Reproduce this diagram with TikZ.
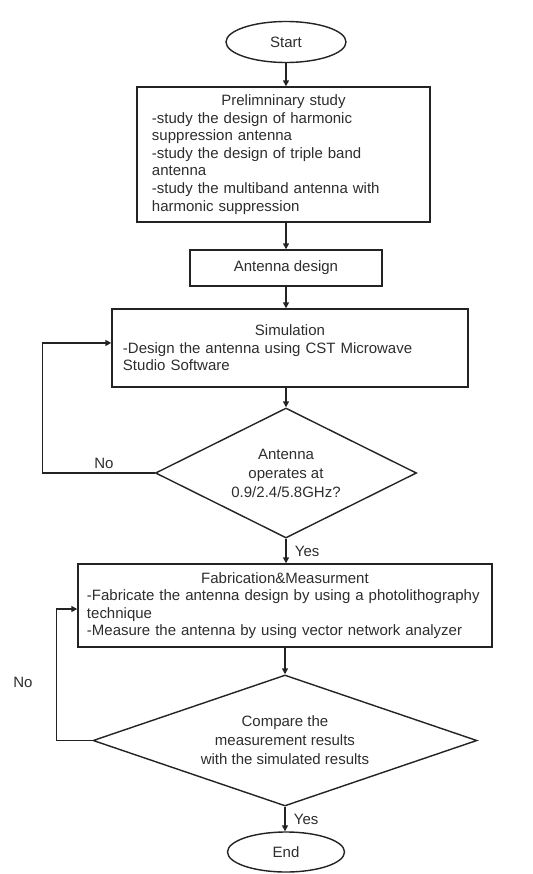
\documentclass[tikz,border=0pt]{standalone}
\usepackage{fontspec}
\setmainfont{Liberation Sans}
\usepackage{tikz}
\usetikzlibrary{
  shapes.geometric,
  arrows.meta,
  positioning
}
\definecolor{LineBlack}{RGB}{35,35,35}
\definecolor{TextBlack}{RGB}{45,45,45}

\begin{document}
\begin{tikzpicture}[
  x=0.03cm, y=-0.03cm,
  font=\fontsize{12.8}{15}\selectfont,
  terminal/.style={
    draw=LineBlack, ellipse,
    line width=1.2pt, inner sep=0pt,
    text=TextBlack
  },
  stepbox/.style={
    draw=LineBlack, rectangle,
    line width=1.2pt, inner sep=0pt,
    align=left, text=TextBlack
  },
  decision/.style={
    draw=LineBlack, diamond,
    line width=1.2pt, inner sep=0pt,
    align=center, text=TextBlack,
    font=\fontsize{12.8}{16.2}\selectfont
  },
  arrow/.style={
    -{Triangle[length=5pt,width=5pt]},
    line width=1.2pt,
    color=LineBlack},
  answer/.style={
    text=TextBlack, inner sep=1pt}
]
\useasboundingbox (0,0) rectangle (532,874);

\node[terminal, minimum width=3.6cm, minimum height=1.23cm]
  (start) at (286,42) {Start};
\node[stepbox, minimum width=8.79cm, minimum height=4.05cm,
  text width=7.89cm] (prelim) at (283.5,154.5)
  {\hbox to \hsize{\hfil Prelimninary study\hfil}
   -study the design of harmonic\\
   suppression antenna\\
   -study the design of triple band\\
   antenna\\
   -study the multiband antenna with\\
   harmonic suppression};
\node[stepbox, align=center, minimum width=5.76cm, minimum height=1.08cm]
  (design) at (286,268) {Antenna design};
\node[stepbox, minimum width=10.68cm, minimum height=2.34cm,
  text width=10.02cm] (sim) at (290,348)
  {\hbox to \hsize{\hfil Simulation\hfil}
   -Design the antenna using CST Microwave\\
   Studio Software};
\node[decision, aspect=2, minimum width=7.83cm, minimum height=3.9cm]
  (check) at (286,473)
  {Antenna\\operates at\\0.9/2.4/5.8GHz?};
\node[stepbox, minimum width=12.42cm, minimum height=2.49cm,
  text width=11.88cm] (fab) at (285,605.5)
  {\hbox to \hsize{\hfil Fabrication\&Measurment\hfil}
   -Fabricate the antenna design by using a photolithography\\
   technique\\
   -Measure the antenna by using vector network analyzer};
\node[decision, aspect=2.93, minimum width=11.52cm, minimum height=3.93cm]
  (compare) at (285,740.5)
  {Compare the\\measurement results\\with the simulated results};
\node[terminal, minimum width=3.51cm, minimum height=1.2cm]
  (end) at (286,852) {End};

\draw[arrow] (start) -- (start |- prelim.north);
\draw[arrow] (design |- prelim.south) -- (design);
\draw[arrow] (design) -- (design |- sim.north);
\draw[arrow] (check |- sim.south) -- (check);
\draw[arrow] (check) --
  node[answer, right=6pt] {Yes} (check |- fab.north);
\draw[arrow] (compare |- fab.south) -- (compare);
\draw[arrow] (compare) --
  node[answer, right=6pt] {Yes} (compare |- end.north);

\draw[arrow] (check.west) -- ++(-112.5,0)
  |- ([yshift=4.3pt]sim.west);
\draw[arrow] (compare.west) -- ++(-36,0)
  |- ([yshift=-3pt]fab.west);

\node[answer] (no1) at (104,463) {No};
\node[answer] (no2) at (23,682) {No};
\end{tikzpicture}
\end{document}
